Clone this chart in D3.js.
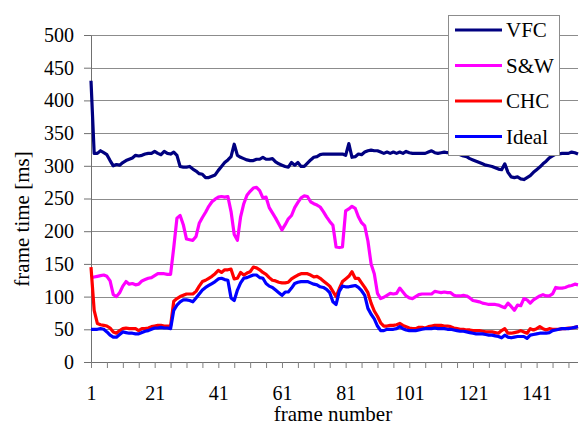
<!DOCTYPE html>
<html>
<head>
<meta charset="utf-8">
<script src="https://cdn.jsdelivr.net/npm/d3@7"></script>
<style>
  html, body { margin: 0; padding: 0; background: #fff; }
  svg { display: block; }
  svg text { font-family: "Liberation Serif", "Times New Roman", serif !important; }
</style>
</head>
<body>
<svg id="chart" width="579" height="431"></svg>
<script>
const seriesNames = ["VFC", "S&W", "CHC", "Ideal"];
const seriesColors = ["#000080", "#FF00FF", "#FF0000", "#0000FF"];

const vfc = [430,319,319,323,320,317,308,300,302,301,305,308,310,312,316,315,316,318,319,319,
  322,319,317,322,319,318,321,316,299,298,298,299,295,292,288,287,282,282,284,286,
  293,299,305,309,314,333,316,313,311,309,308,308,310,310,313,310,310,311,306,303,
  301,299,298,305,301,305,299,299,304,309,313,314,317,318,318,318,318,318,318,318,
  316,334,313,314,318,317,321,323,324,323,323,321,319,321,319,321,319,321,319,322,
  320,319,319,319,319,319,321,323,320,319,320,321,320,320,320,319,317,315,314,311,
  309,307,305,303,301,300,299,297,295,294,303,290,283,282,283,280,279,282,285,290,
  294,298,303,307,312,315,318,318,319,319,319,321,320,318];

const sw = [129,130,131,132,133,131,124,103,100,106,116,123,119,120,118,119,124,126,128,129,
  132,135,135,135,134,134,175,220,224,210,188,187,186,192,212,221,229,238,245,249,
  252,253,252,253,230,195,186,222,242,255,261,266,267,262,251,252,236,228,220,211,
  202,210,219,224,236,244,251,254,253,245,242,240,237,230,222,215,209,176,175,176,
  231,234,238,235,222,213,208,185,150,135,105,97,99,102,105,104,105,113,107,101,
  98,97,100,103,104,104,104,104,108,107,106,107,106,106,102,101,101,102,101,98,
  94,93,92,90,89,88,88,88,87,85,83,90,85,79,87,86,97,95,90,95,
  98,101,103,101,101,104,114,113,113,114,116,117,119,118];

const chc = [145,79,59,57,56,55,52,46,44,48,51,52,51,51,51,48,51,51,52,54,
  55,56,56,55,55,55,93,97,100,102,104,104,104,108,116,123,125,128,131,135,
  140,137,141,141,142,127,128,137,133,136,138,145,144,141,137,134,129,125,124,122,
  121,121,122,127,130,133,135,135,135,133,130,131,128,124,120,116,108,100,112,123,
  127,131,138,128,128,121,114,106,90,78,70,60,55,55,56,56,57,59,56,54,
  52,51,51,53,53,52,54,55,56,56,56,55,55,54,52,51,50,50,49,49,
  48,48,48,47,46,46,46,45,44,48,51,44,44,45,46,48,46,44,51,49,
  51,54,51,49,51,50,50,50,51,51,52,52,53,54];

const ideal = [50,50,50,51,50,46,41,38,38,42,46,45,44,44,43,43,45,47,48,50,
  52,52,53,52,52,51,79,87,92,95,95,94,92,98,104,110,114,117,120,123,
  127,128,126,125,98,94,110,121,128,129,131,133,133,129,128,120,116,114,110,106,
  102,107,107,113,120,122,123,123,123,121,119,118,115,114,111,106,92,88,108,116,
  115,115,116,117,114,109,102,82,73,66,55,48,48,50,50,50,51,54,51,49,
  48,48,48,49,50,51,51,51,52,51,51,51,50,50,49,48,47,47,46,45,
  44,43,43,43,42,41,41,40,39,37,41,38,37,38,39,39,39,36,41,42,
  43,44,44,44,45,48,49,50,51,51,51,52,53,54];

const yTicks = [0, 50, 100, 150, 200, 250, 300, 350, 400, 450, 500];
const xTickMarks = d3.range(1, 152, 5);
const xTickLabels = [1, 21, 41, 61, 81, 101, 121, 141];
const xTitle = "frame number";
const yTitle = "frame time [ms]";

const allSeries = [vfc, sw, chc, ideal];
const frames = d3.range(1, vfc.length + 1);
const serif = '"Liberation Serif", "Times New Roman", serif';

const svg = d3.select("#chart");
const x = d3.scaleLinear().domain([1, frames.length]).range([91, 578]);
const y = d3.scaleLinear().domain([0, 500]).range([362, 35]);

// gridlines
svg.append("g").selectAll("line").data(yTicks.filter(d => d > 0)).join("line")
  .attr("x1", x(1)).attr("x2", 578)
  .attr("y1", d => Math.round(y(d)) + 0.5).attr("y2", d => Math.round(y(d)) + 0.5)
  .attr("stroke", "#8c8c8c").attr("stroke-width", 1);

// y axis
const yAxis = svg.append("g").attr("transform", `translate(${x(1)},0)`)
  .call(d3.axisLeft(y).tickValues(yTicks).tickSize(7).tickPadding(10).tickSizeOuter(0));
yAxis.attr("font-family", null);
yAxis.select(".domain").attr("stroke", "#707070");
yAxis.selectAll(".tick line").attr("stroke", "#707070");
yAxis.selectAll("text").attr("font-size", 20).attr("fill", "#000").style("font-family", serif);

// x axis
const xAxis = svg.append("g").attr("transform", `translate(0,${y(0)})`)
  .call(d3.axisBottom(x).tickValues(xTickMarks).tickSize(6).tickPadding(18).tickSizeOuter(0)
    .tickFormat(d => xTickLabels.includes(d) ? String(d) : ""));
xAxis.attr("font-family", null);
xAxis.select(".domain").attr("stroke", "#707070").attr("d", `M${x(1)},0.5H578`);
xAxis.selectAll(".tick line").attr("stroke", "#808080");
xAxis.selectAll("text").attr("font-size", 20).attr("fill", "#000").style("font-family", serif);

// series
const line = d3.line().x((d, i) => x(frames[i])).y(d => y(d));
allSeries.forEach((s, k) => {
  svg.append("path").datum(s)
    .attr("fill", "none")
    .attr("stroke", seriesColors[k])
    .attr("stroke-width", 3.2)
    .attr("stroke-linejoin", "round")
    .attr("d", line);
});

// axis titles
svg.append("text").attr("x", 333).attr("y", 421).attr("text-anchor", "middle")
  .attr("font-size", 21).style("font-family", serif).text(xTitle);
svg.append("text").attr("transform", "translate(29,219) rotate(-90)")
  .attr("text-anchor", "middle").attr("font-size", 21).style("font-family", serif).text(yTitle);

// legend
const lg = svg.append("g");
lg.append("rect").attr("x", 448.5).attr("y", 15.5).attr("width", 111).attr("height", 140)
  .attr("fill", "#fff").attr("stroke", "#8c8c8c").attr("stroke-width", 1);
seriesNames.forEach((name, k) => {
  const yy = 30 + k * 35.5;
  lg.append("line").attr("x1", 455).attr("x2", 502).attr("y1", yy).attr("y2", yy)
    .attr("stroke", seriesColors[k]).attr("stroke-width", 3.2);
  lg.append("text").attr("x", 506).attr("y", yy + 7).attr("font-size", 21)
    .attr("fill", "#000").style("font-family", serif).text(name);
});
</script>
</body>
</html>
